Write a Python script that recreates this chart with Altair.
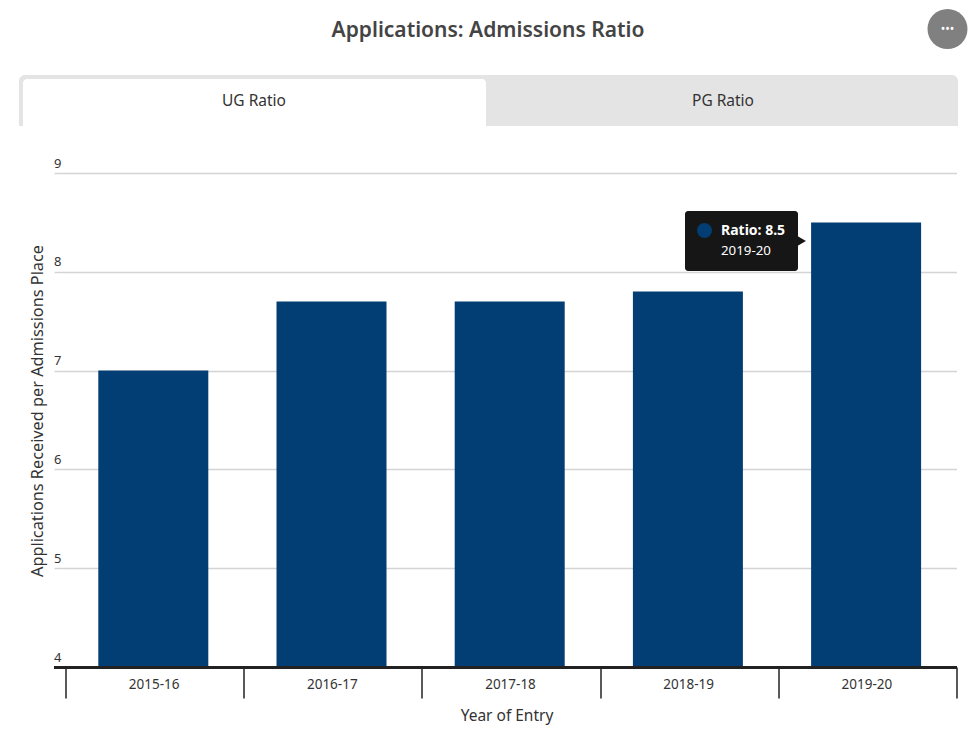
import altair as alt
import pandas as pd

# ---- chart values ----
years = ["2015-16", "2016-17", "2017-18", "2018-19", "2019-20"]
ratios = [7.0, 7.7, 7.7, 7.8, 8.5]
y_ticks = [4, 5, 6, 7, 8, 9]
title_text = "Applications: Admissions Ratio"
tab_labels = ["UG Ratio", "PG Ratio"]
tip_lines = ["Ratio: 8.5", "2019-20"]
x_title = "Year of Entry"
y_title = "Applications Received per Admissions Place"

NAVY = "#023e73"
TEXT = "#333333"
FONT = "Noto Sans"

OX, OY = 65.5, 173  # plot origin in page pixels (minus 8 margin handled by padding)
W, H = 891, 494


def X(v):
    return alt.value(v - OX)


def Y(v):
    return alt.value(v - OY)


one = pd.DataFrame({"k": [0]})
bars_df = pd.DataFrame({"year": years, "ratio": ratios})


def rect(x0, x1, y0, y1, color, **kw):
    return alt.Chart(one).mark_rect(color=color, **kw).encode(
        x=X(x0), x2=X(x1), y=Y(y0), y2=Y(y1)
    )


def label(txt, x, y, size, color=TEXT, weight="normal", align="center", font=FONT):
    return alt.Chart(one).mark_text(
        text=txt, fontSize=size, color=color, fontWeight=weight,
        align=align, baseline="middle", font=font,
    ).encode(x=X(x), y=Y(y))


def point(x, y, size, color, shape="circle"):
    return alt.Chart(one).mark_point(
        filled=True, opacity=1, size=size, color=color, shape=shape
    ).encode(x=X(x), y=Y(y))


bars = alt.Chart(bars_df).mark_bar(color=NAVY, width=110, xOffset=-1.3).encode(
    x=alt.X(
        "year:N",
        sort=years,
        scale=alt.Scale(paddingInner=0, paddingOuter=0),
        axis=alt.Axis(
            title=x_title, titleFont=FONT, titleFontSize=15.5, titleFontWeight="normal",
            titleColor=TEXT, titleX=441, titleY=48, titleBaseline="middle",
            labelAngle=0, labelFont=FONT, labelFontSize=13.5, labelColor=TEXT,
            labelPadding=-14, labelBaseline="middle", labelOffset=-1,
            tickBand="extent", tickSize=31, tickWidth=1.5, tickColor="#222222",
            domainColor="#222222", domainWidth=3, zindex=1,
        ),
    ),
    y=alt.Y(
        "ratio:Q",
        scale=alt.Scale(domain=[4, 9], nice=False, zero=False, clamp=True),
        axis=alt.Axis(
            values=y_ticks, format="d",
            title=y_title, titleFont=FONT, titleFontSize=16.3, titleFontWeight="normal",
            titleColor=TEXT, titleX=-28, titleY=237.5, titleBaseline="middle",
            labelFont=FONT, labelFontSize=13, labelColor=TEXT,
            labelAlign="left", labelBaseline="bottom", labelPadding=0.5, labelOffset=-3,
            tickSize=11.5, tickWidth=1.5, tickColor="#d4d4d4",
            grid=True, gridColor="#d4d4d4", gridWidth=1.5,
            domain=False,
        ),
    ),
)

chart = alt.layer(
    # header
    label(title_text, 488, 30.5, 21, color="#444444", weight=600),
    point(947.5, 29, 1600, "#808080"),
    label("•••", 947.5, 29, 12, color="#ffffff"),
    # tabs
    rect(19, 958, 75, 126, "#e4e4e4", cornerRadiusTopLeft=6, cornerRadiusTopRight=6),
    rect(23, 486, 79, 126, "#ffffff", cornerRadiusTopLeft=4, cornerRadiusTopRight=4),
    label(tab_labels[0], 254, 101, 15.5),
    label(tab_labels[1], 723, 101, 15.5),
    # bars and axes
    bars,
    # extension of the baseline to the left
    rect(54, 66, 666, 669, "#222222"),
    # tooltip
    point(799.5, 241, 220, "#161616", shape="triangle-right"),
    rect(685, 798, 211, 271, "#161616", cornerRadius=3),
    point(704.5, 230.5, 225, NAVY),
    label(tip_lines[0], 721, 231, 14, color="#ffffff", weight="bold", align="left"),
    label(tip_lines[1], 721, 251, 13.3, color="#ffffff", align="left"),
).properties(
    width=W,
    height=H,
    autosize=alt.AutoSizeParams(type="none"),
    padding={"left": OX - 8, "top": OY - 8, "right": 11, "bottom": 58},
    background="#ffffff",
).configure_view(stroke=None)

chart.save("out.html", embed_options={"renderer": "svg", "actions": False})
